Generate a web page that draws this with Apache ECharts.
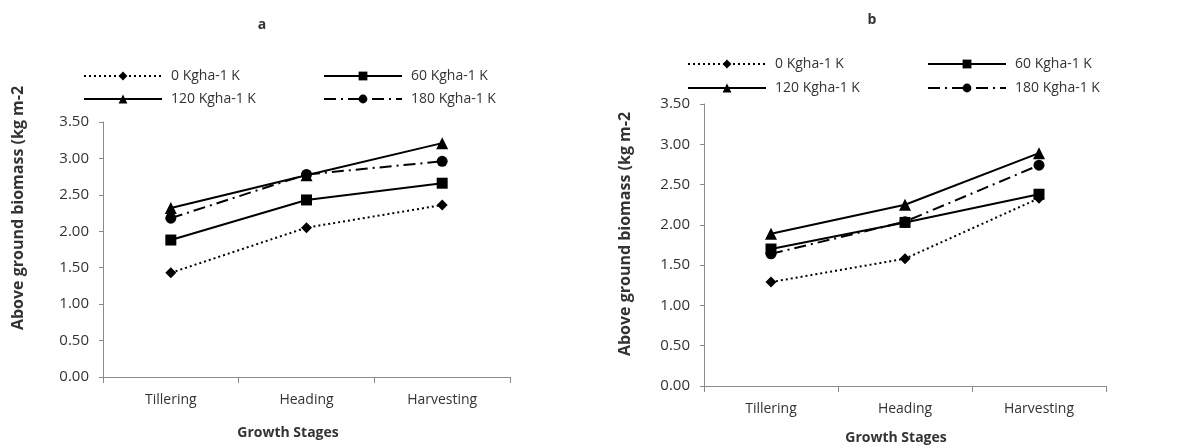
<!DOCTYPE html>
<html>
<head>
<meta charset="utf-8">
<script src="https://cdn.jsdelivr.net/npm/echarts@6/dist/echarts.min.js"></script>
<style>
  html, body { margin: 0; padding: 0; background: #fff; }
  #chart { width: 1201px; height: 446px; }
</style>
</head>
<body>
<div id="chart"></div>
<script>
// growth stages on the x axis
let stages = ['Tillering', 'Heading', 'Harvesting']
let seriesNames = ['0 Kgha-1 K', '60 Kgha-1 K', '120 Kgha-1 K', '180 Kgha-1 K']

// panel a values (kg m-2)
let a0 = [1.43, 2.05, 2.36]
let a60 = [1.88, 2.43, 2.66]
let a120 = [2.32, 2.77, 3.21]
let a180 = [2.18, 2.78, 2.96]

// panel b values (kg m-2)
let b0 = [1.29, 1.58, 2.33]
let b60 = [1.70, 2.03, 2.38]
let b120 = [1.89, 2.25, 2.89]
let b180 = [1.64, 2.04, 2.74]

let yTicks = [0, 0.5, 1, 1.5, 2, 2.5, 3, 3.5]
let yName = 'Above ground biomass (kg m-2'

let font = '"Open Sans", Lato, sans-serif'
let textColor = '#333'
let axisColor = '#8a8a8a'

// how each treatment is drawn
let styles = [
  { symbol: 'diamond', symbolSize: 11, type: [2, 3] },
  { symbol: 'rect', symbolSize: 11, type: 'solid' },
  { symbol: 'triangle', symbolSize: 12, type: 'solid' },
  { symbol: 'circle', symbolSize: 11, type: [12, 5, 2, 5] }
]

function makeSeries(dataList, gridIndex) {
  return dataList.map((d, i) => ({
    name: seriesNames[i],
    type: 'line',
    xAxisIndex: gridIndex,
    yAxisIndex: gridIndex,
    symbol: styles[i].symbol,
    symbolSize: styles[i].symbolSize,
    lineStyle: { color: '#000', width: 2, type: styles[i].type },
    itemStyle: { color: '#000' },
    data: d
  }))
}

function makeLegend(name, left, top) {
  return {
    data: [name],
    left: left,
    top: top,
    itemWidth: 78,
    itemHeight: 11,
    itemGap: 0,
    selectedMode: false,
    textStyle: { fontFamily: font, fontSize: 14, color: textColor, padding: [0, 0, 0, 4] }
  }
}

function xAxis(gridIndex) {
  return {
    type: 'category',
    gridIndex: gridIndex,
    data: stages,
    boundaryGap: true,
    axisLine: { lineStyle: { color: axisColor, width: 1 } },
    axisTick: { show: true, length: 6, lineStyle: { color: axisColor } },
    axisLabel: { fontFamily: font, fontSize: 14, color: textColor, margin: 16 }
  }
}

function yAxis(gridIndex) {
  return {
    type: 'value',
    gridIndex: gridIndex,
    min: yTicks[0],
    max: yTicks[yTicks.length - 1],
    interval: 0.5,
    splitLine: { show: false },
    axisLine: { show: true, lineStyle: { color: axisColor, width: 1 } },
    axisTick: { show: true, length: 4, lineStyle: { color: axisColor } },
    axisLabel: {
      fontFamily: font, fontSize: 15, color: textColor, margin: 14,
      formatter: v => v.toFixed(2)
    }
  }
}

function label(text, x, y, size, rotation) {
  return {
    type: 'text',
    x: x,
    y: y,
    rotation: rotation || 0,
    style: {
      text: text,
      fontFamily: font,
      fontSize: size,
      fontWeight: 'bold',
      fill: textColor,
      align: 'center',
      verticalAlign: 'middle'
    }
  }
}

let myChart = echarts.init(document.getElementById('chart'), null, { renderer: 'canvas' })
let option = {
  backgroundColor: '#fff',
  animation: false,
  grid: [
    { left: 103, right: 691, top: 122, bottom: 69 },
    { left: 704, right: 95, top: 104, bottom: 60 }
  ],
  legend: [
    makeLegend(seriesNames[0], 78, 64),
    makeLegend(seriesNames[1], 318, 64),
    makeLegend(seriesNames[2], 78, 87),
    makeLegend(seriesNames[3], 318, 87),
    makeLegend(seriesNames[0], 682, 52),
    makeLegend(seriesNames[1], 922, 52),
    makeLegend(seriesNames[2], 682, 76),
    makeLegend(seriesNames[3], 922, 76)
  ],
  xAxis: [xAxis(0), xAxis(1)],
  yAxis: [yAxis(0), yAxis(1)],
  graphic: [
    label('a', 262, 25, 14),
    label('b', 872, 20, 14),
    label('Growth Stages', 288, 433, 14),
    label('Growth Stages', 896, 438, 14),
    label(yName, 18, 208, 16, Math.PI / 2),
    label(yName, 625, 234, 16, Math.PI / 2)
  ],
  series: makeSeries([a0, a60, a120, a180], 0).concat(makeSeries([b0, b60, b120, b180], 1))
}
myChart.setOption(option)
</script>
</body>
</html>
